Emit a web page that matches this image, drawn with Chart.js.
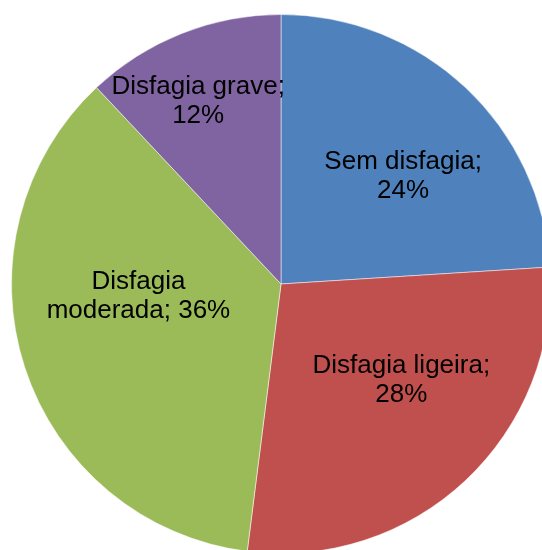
<!DOCTYPE html>
<html>
<head>
<meta charset="utf-8">
<script src="https://cdn.jsdelivr.net/npm/chart.js@4"></script>
<style>
  html, body { margin: 0; padding: 0; background: #fff; }
  #wrap { position: relative; width: 542px; height: 550px; overflow: hidden; }
  #pie { position: absolute; left: 11px; top: 14px; }
</style>
</head>
<body>
<div id="wrap">
  <canvas id="pie" width="540" height="540"></canvas>
</div>
<script>
// data
const categories = ['Sem disfagia', 'Disfagia ligeira', 'Disfagia moderada', 'Disfagia grave'];
const percentages = [24, 28, 36, 12];
const sliceColors = ['#4F81BD', '#C0504D', '#9BBB59', '#8064A2'];

// label placement (fraction of radius, angle nudge in degrees from the slice middle)
const labelRadius = [0.604, 0.572, 0.531, 0.744];
const labelNudge = [5.4, -8.1, 13, -2.8];

function wrapText(ctx, text, maxWidth) {
  const words = text.split(' ');
  const lines = [];
  let line = words[0];
  for (let i = 1; i < words.length; i++) {
    const test = line + ' ' + words[i];
    if (ctx.measureText(test).width > maxWidth) {
      lines.push(line);
      line = words[i];
    } else {
      line = test;
    }
  }
  lines.push(line);
  return lines;
}

const sliceLabels = {
  id: 'sliceLabels',
  afterDatasetsDraw(chart) {
    const ctx = chart.ctx;
    const meta = chart.getDatasetMeta(0);
    ctx.save();
    ctx.font = '26px "Liberation Sans", Arial, sans-serif';
    ctx.fillStyle = '#000';
    ctx.textAlign = 'center';
    ctx.textBaseline = 'middle';
    meta.data.forEach((arc, i) => {
      const mid = (arc.startAngle + arc.endAngle) / 2 + labelNudge[i] * Math.PI / 180;
      const r = arc.outerRadius * labelRadius[i];
      const x = arc.x + Math.cos(mid) * r;
      const y = arc.y + Math.sin(mid) * r;
      const text = categories[i] + '; ' + percentages[i] + '%';
      const lines = wrapText(ctx, text, 200);
      const lh = 29;
      lines.forEach((l, j) => {
        ctx.fillText(l, x, y + (j - (lines.length - 1) / 2) * lh);
      });
    });
    ctx.restore();
  }
};

new Chart(document.getElementById('pie').getContext('2d'), {
  type: 'pie',
  data: {
    labels: categories,
    datasets: [{
      data: percentages,
      backgroundColor: sliceColors,
      borderColor: 'rgba(255,255,255,0.5)',
      borderWidth: 1
    }]
  },
  options: {
    responsive: false,
    animation: false,
    layout: { padding: 0 },
    plugins: {
      legend: { display: false },
      tooltip: { enabled: false }
    }
  },
  plugins: [sliceLabels]
});
</script>
</body>
</html>
